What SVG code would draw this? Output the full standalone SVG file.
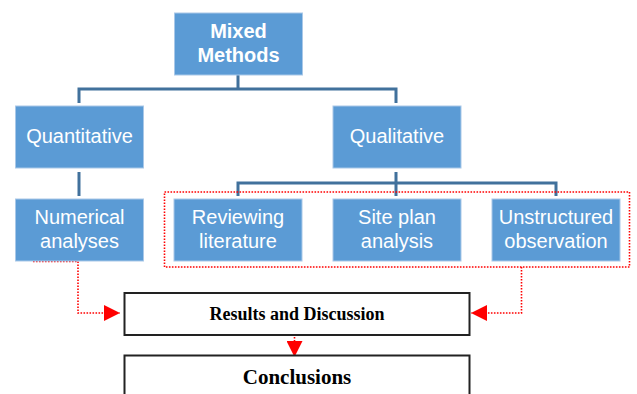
<svg xmlns="http://www.w3.org/2000/svg" width="637" height="394" viewBox="0 0 637 394">
<style>
.b{fill:#5B9BD5;stroke:#A9C8E8;stroke-width:1}
.t{font-family:"Liberation Sans",Arial,sans-serif;font-size:20px;fill:#fff;text-anchor:middle}
.tb{font-weight:bold}
.c{fill:none;stroke:#41719C;stroke-width:3}
.r{fill:none;stroke:#FF0000;stroke-width:1.6;stroke-dasharray:1.6 1.4}
.w{fill:#fff;stroke:#222;stroke-width:2}
.s{font-family:"Liberation Serif","Times New Roman",serif;font-weight:bold;fill:#000;text-anchor:middle}
</style>
<defs>
<marker id="ah" viewBox="0 0 16 16" refX="16" refY="8" markerWidth="16" markerHeight="16" markerUnits="userSpaceOnUse" orient="auto">
<path d="M0,0 L16,8 L0,16 Z" fill="#FF0000"/>
</marker>
</defs>
<rect width="637" height="394" fill="#fff"/>
<g id="connectors">
<path class="c" d="M238 75V89M79 103V89H396V103"/>
<path class="c" d="M79 172V196"/>
<path class="c" d="M396 172V196M238 196V183H556V196"/>
<rect class="r" x="164.5" y="192" width="465" height="75"/>
<path class="r" d="M33 261.5H78V313H120" marker-end="url(#ah)"/>
<path class="r" d="M521.5 267V313H471" marker-end="url(#ah)"/>
<path class="r" d="M294.5 331V357" marker-end="url(#ah)"/>
</g>
<g id="mixed"><rect class="b" x="174.5" y="13" width="128" height="62"/><text class="t tb" x="238.5" y="38">Mixed</text><text class="t tb" x="238.5" y="62">Methods</text></g>
<g id="quantitative"><rect class="b" x="15.5" y="106" width="128" height="62"/><text class="t" x="79.5" y="143">Quantitative</text></g>
<g id="qualitative"><rect class="b" x="333" y="106" width="128" height="62"/><text class="t" x="397" y="143">Qualitative</text></g>
<g id="numerical"><rect class="b" x="15.5" y="199" width="128" height="62"/><text class="t" x="79.5" y="224">Numerical</text><text class="t" x="79.5" y="248">analyses</text></g>
<g id="reviewing"><rect class="b" x="174" y="199" width="128" height="62"/><text class="t" x="238" y="224">Reviewing</text><text class="t" x="238" y="248">literature</text></g>
<g id="siteplan"><rect class="b" x="333" y="199" width="128" height="62"/><text class="t" x="397" y="224">Site plan</text><text class="t" x="397" y="248">analysis</text></g>
<g id="unstructured"><rect class="b" x="492" y="199" width="128" height="62"/><text class="t" x="556" y="224">Unstructured</text><text class="t" x="556" y="248">observation</text></g>
<g id="results"><rect class="w" x="124.5" y="293" width="345" height="42"/><text class="s" x="297" y="320" font-size="18">Results and Discussion</text></g>
<g id="conclusions"><rect class="w" x="124.5" y="355.5" width="345" height="50"/><text class="s" x="297" y="384" font-size="21">Conclusions</text></g>
</svg>
